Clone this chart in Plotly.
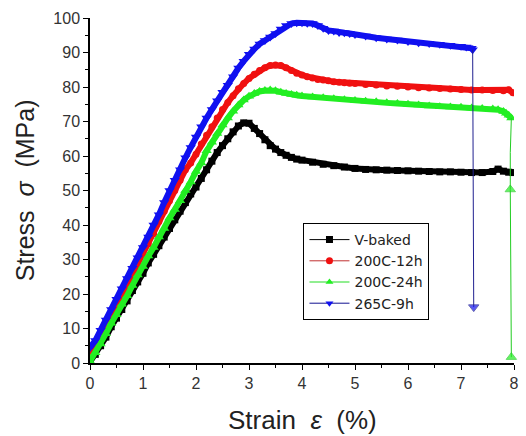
import plotly.graph_objects as go

# ---------------- data ----------------
vb_x = [0.0,0.1,0.2,0.3,0.4,0.5,0.6,0.7,0.8,0.9,1.0,1.1,1.2,1.3,1.4,1.5,1.6,1.7,1.8,1.9,
        2.0,2.1,2.2,2.3,2.4,2.5,2.6,2.7,2.8,2.9,3.0,3.1,3.2,3.3,3.4,3.5,3.6,3.7,3.8,3.9,
        4.0,4.2,4.4,4.6,4.8,5.0,5.2,5.4,5.6,5.8,6.0,6.2,6.4,6.6,6.8,7.0,7.2,7.4,7.6,7.7,
        7.8,7.9,7.98]
vb_y = [0.3,2.5,5,7.5,10.5,13,15.5,18,21,23.5,26,29,31.5,34,36.5,39,41.5,44,46.5,49,
        51,53.5,56,58.5,61,63,65,67,68.7,69.6,69.5,68,66.5,64.7,63,62,61,60.2,59.6,59.1,
        58.8,58.2,57.6,57.2,56.8,56.4,56.1,56,55.9,55.8,55.7,55.6,55.5,55.4,55.4,55.3,55.2,55.2,55.5,56.2,
        55.6,55.3,55.2]

r12_x = [0.0,0.1,0.2,0.3,0.4,0.5,0.6,0.7,0.8,0.9,1.0,1.1,1.2,1.3,1.4,1.5,1.6,1.7,1.8,1.9,
         2.0,2.1,2.2,2.3,2.4,2.5,2.6,2.7,2.8,2.9,3.0,3.1,3.2,3.3,3.4,3.5,3.6,3.7,3.8,3.9,
         4.0,4.1,4.2,4.3,4.4,4.5,4.6,4.7,4.8,4.9,5.0,5.2,5.4,5.6,5.8,6.0,6.2,6.4,6.6,6.8,
         7.0,7.2,7.4,7.6,7.8,7.9,7.98]
r12_y = [2,4.5,7.5,10.5,13.5,16.5,19.5,22.5,25.5,28.5,31.5,34.5,37.5,41,44,47,50,53,56,58,
         60.5,63.5,66,68.5,71,73.5,75.5,77.5,79.5,81,82.5,83.7,84.8,85.6,86.2,86.4,86.2,85.6,84.8,84,
         83.5,83,82.6,82.2,82,81.8,81.5,81.4,81.2,81.1,81,80.7,80.6,80.3,80.2,80,79.8,79.7,79.6,79.4,
         79.3,79.1,79.1,79,78.9,79.2,78.3]

g24_x = [0.0,0.1,0.2,0.3,0.4,0.5,0.6,0.7,0.8,0.9,1.0,1.1,1.2,1.3,1.4,1.5,1.6,1.7,1.8,1.9,
         2.0,2.1,2.2,2.3,2.4,2.5,2.6,2.7,2.8,2.9,3.0,3.1,3.2,3.3,3.4,3.5,3.6,3.7,3.8,3.9,
         4.0,4.2,4.4,4.6,4.8,5.0,5.2,5.4,5.6,5.8,6.0,6.2,6.4,6.6,6.8,7.0,7.2,7.4,7.6,7.7,
         7.8,7.85,7.9,7.95]
g24_y = [0.5,3,5.5,8.5,11.5,14,17,19.5,22.5,25.5,28,31,33.5,36.5,39,42,44.5,47,50,52.5,
         55.5,58,61.5,64,66.5,69,71,73,74.8,76.2,77.3,78.1,78.7,79,79.1,78.9,78.5,78.1,77.8,77.6,
         77.4,77.1,76.9,76.6,76.3,76.1,75.9,75.7,75.4,75.2,75,74.8,74.5,74.3,74.2,74.1,73.9,73.8,73.6,73.4,
         72.9,72.4,71.8,71]
g24_drop_x = [7.95, 7.93, 7.93, 7.95]
g24_drop_y = [71, 61, 50.3, 1.7]

b9_x = [0.0,0.1,0.2,0.3,0.4,0.5,0.6,0.7,0.8,0.9,1.0,1.1,1.2,1.3,1.4,1.5,1.6,1.7,1.8,1.9,
        2.0,2.1,2.2,2.3,2.4,2.5,2.6,2.7,2.8,2.9,3.0,3.1,3.2,3.3,3.4,3.5,3.6,3.7,3.8,3.9,
        4.0,4.1,4.2,4.3,4.4,4.5,4.6,4.7,4.8,4.9,5.0,5.2,5.4,5.6,5.8,6.0,6.2,6.4,6.6,6.8,
        7.0,7.1,7.2,7.22]
b9_y = [4.5,6.5,9.5,12.5,15.5,18.5,21.5,24.5,27.5,30.5,33.5,36.5,40,43,46.5,50,53,56,59.5,62.5,
        65.5,68.5,71,73.5,76,78.5,80.5,83,85.5,87.5,89.5,91,92.5,93.5,94.5,95.5,96.8,97.8,98.4,98.6,
        98.6,98.5,98.4,97.8,97,96.4,96.2,95.8,95.7,95.5,95.2,94.8,94.3,93.9,93.6,93.2,92.8,92.6,92.4,92.1,
        91.8,91.6,91.2,90.8]
b9_drop_x = [7.22, 7.23, 7.24]
b9_drop_y = [90.8, 37, 16.2]

names = ["V-baked", "200C-12h", "200C-24h", "265C-9h"]
colors = ["#000000", "#f01010", "#22ee22", "#1010f0"]
symbols = ["square", "circle", "triangle-up", "triangle-down"]
msizes = [7, 7, 9, 9]

fig = go.Figure()

series = [(vb_x, vb_y), (r12_x, r12_y), (g24_x, g24_y), (b9_x, b9_y)]
for (xs, ys), c, s, ms in zip(series, colors, symbols, msizes):
    fig.add_trace(go.Scatter(x=xs, y=ys, mode="lines+markers", showlegend=False,
                             line=dict(color=c, width=6),
                             marker=dict(color=c, symbol=s, size=ms)))

# drop-off lines at fracture
fig.add_trace(go.Scatter(x=g24_drop_x, y=g24_drop_y, mode="lines+markers", showlegend=False,
                         line=dict(color="#22cc22", width=1),
                         marker=dict(color="#22ee22", symbol="triangle-up", size=[0, 0, 9, 9]),
                         cliponaxis=False))
fig.add_trace(go.Scatter(x=b9_drop_x, y=b9_drop_y, mode="lines+markers", showlegend=False,
                         line=dict(color="#202090", width=1),
                         marker=dict(color="#1010f0", symbol="triangle-down", size=[0, 0, 9])))

# legend entries
leg_line_colors = ["#000000", "#c03030", "#22dd22", "#101090"]
for n, c, lc, s in zip(names, colors, leg_line_colors, symbols):
    fig.add_trace(go.Scatter(x=[None], y=[None], mode="lines+markers", name=n,
                             line=dict(color=lc, width=1),
                             marker=dict(color=c, symbol=s, size=7)))

axis_common = dict(showline=True, linecolor="black", linewidth=1.5, mirror=False,
                   ticks="outside", ticklen=5, tickwidth=1.2, tickcolor="black",
                   showgrid=False, zeroline=False,
                   tickfont=dict(family="Liberation Sans, Arial", size=16, color="#333333"))

fig.update_xaxes(range=[0, 8], dtick=1, tick0=0,
                 minor=dict(dtick=0.5, ticks="outside", ticklen=3, tickcolor="black"),
                 **axis_common)
fig.update_yaxes(range=[0, 100], dtick=10, tick0=0,
                 minor=dict(dtick=5, ticks="outside", ticklen=3, tickcolor="black"),
                 **axis_common)

plot_w = 526 - 90 - 7
plot_h = 436 - 18 - 73

fig.add_annotation(text="Stress\u00a0\u00a0<i>σ</i>\u00a0\u00a0(MPa)", textangle=-90,
                   xref="paper", yref="paper", x=(24 - 90) / plot_w, y=0.5,
                   xanchor="center", yanchor="middle", showarrow=False,
                   font=dict(family="Liberation Sans, Arial", size=25, color="#222222"))
fig.add_annotation(text="Strain\u00a0\u00a0<i>ε</i>\u00a0\u00a0(%)",
                   xref="paper", yref="paper", x=0.5, y=(363 - 420) / plot_h,
                   xanchor="center", yanchor="middle", showarrow=False,
                   font=dict(family="Liberation Sans, Arial", size=26, color="#222222"))

fig.update_layout(
    width=526, height=436,
    margin=dict(l=90, r=7, t=18, b=73),
    paper_bgcolor="white", plot_bgcolor="white",
    showlegend=True,
    legend=dict(x=(306 - 90) / plot_w, y=(363 - 223) / plot_h, xanchor="left", yanchor="top",
                bgcolor="white", bordercolor="black", borderwidth=1,
                font=dict(family="DejaVu Sans", size=14, color="#222222"),
                itemwidth=40, tracegroupgap=0),
)

fig.write_html("out.html", config={"displayModeBar": False},
               post_script="document.body.style.margin='0px';")
